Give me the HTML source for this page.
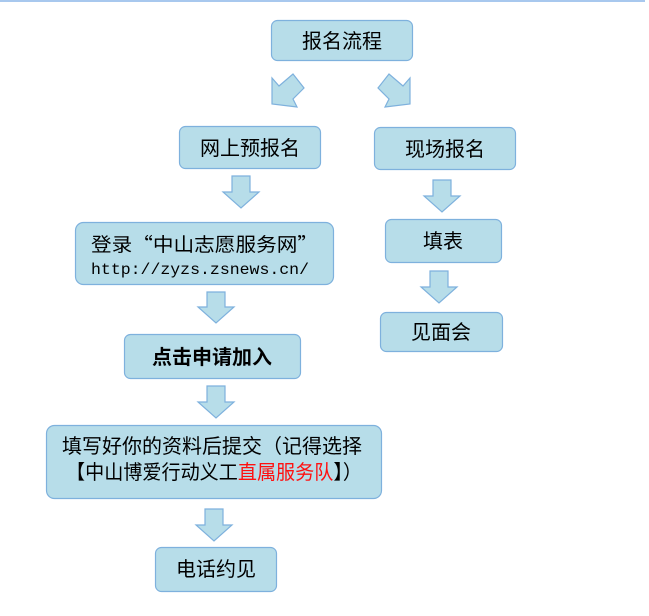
<!DOCTYPE html>
<html><head><meta charset="utf-8"><style>
html,body{margin:0;padding:0;background:#fff;}
svg{display:block;}
text{font-family:"Liberation Sans","Noto Sans CJK SC",sans-serif;fill:#000;}
.cjk{font-family:"Noto Sans CJK SC",sans-serif;}
</style></head><body>
<svg width="649" height="616" viewBox="0 0 649 616" xmlns="http://www.w3.org/2000/svg">
<rect x="0" y="0" width="645" height="2" fill="#a8c8ee"/>
<g fill="#b7dde9" stroke="#7eb1dd" stroke-width="1.2">
<rect x="271.5" y="20.5" width="141" height="40" rx="6"/>
<rect x="179.5" y="126.5" width="141" height="42" rx="6"/>
<rect x="374.5" y="127.5" width="141" height="42" rx="6"/>
<rect x="75.5" y="222.5" width="258" height="62" rx="8"/>
<rect x="385.5" y="219.5" width="116" height="43" rx="6"/>
<rect x="124.5" y="334.5" width="176" height="44" rx="6"/>
<rect x="380.5" y="312.5" width="122" height="39" rx="6"/>
<rect x="46.5" y="425.5" width="335" height="73" rx="8"/>
<rect x="155.5" y="547.5" width="121" height="44" rx="6"/>
<polygon points="272,78 272,104 297,107 293,99 304,88 293,74 279,86"/>
<polygon points="410,78 410,104 385,107 389,99 378,88 389,74 403,86"/>
<polygon points="232,176 250,176 250,192 259,192 241,208 223,192 232,192"/>
<polygon points="433,180 451,180 451,196 460,196 442,212 424,196 433,196"/>
<polygon points="207,292 225,292 225,307 234,307 216,323 198,307 207,307"/>
<polygon points="430,271 448,271 448,287 457,287 439,303 421,287 430,287"/>
<polygon points="207,386 225,386 225,402 234,402 216,418 198,402 207,402"/>
<polygon points="205,509 223,509 223,525 232,525 214,541 196,525 205,525"/>
</g>
<text x="342" y="48" font-size="20" text-anchor="middle">报名流程</text>
<text x="250" y="155" font-size="20" text-anchor="middle">网上预报名</text>
<text x="445" y="156" font-size="20" text-anchor="middle">现场报名</text>
<text class="cjk" x="91" y="251" font-size="19" textLength="227" lengthAdjust="spacingAndGlyphs">登录“中山志愿服务网”</text>
<text x="91" y="274" font-size="16" textLength="218" lengthAdjust="spacingAndGlyphs" style="font-family:'Liberation Mono',monospace">http://zyzs.zsnews.cn/</text>
<text x="443" y="248" font-size="20" text-anchor="middle">填表</text>
<text x="212" y="364" font-size="20" font-weight="bold" text-anchor="middle">点击申请加入</text>
<text x="441" y="339" font-size="20" text-anchor="middle">见面会</text>
<text class="cjk" x="62" y="453" font-size="20">填写好你的资料后提交（记得选择</text>
<text class="cjk" x="66" y="479" font-size="20" textLength="296" lengthAdjust="spacingAndGlyphs">【中山博爱行动义工<tspan fill="#ff1010">直属服务队</tspan>】）</text>
<text x="216" y="576" font-size="20" text-anchor="middle">电话约见</text>
</svg>
</body></html>
